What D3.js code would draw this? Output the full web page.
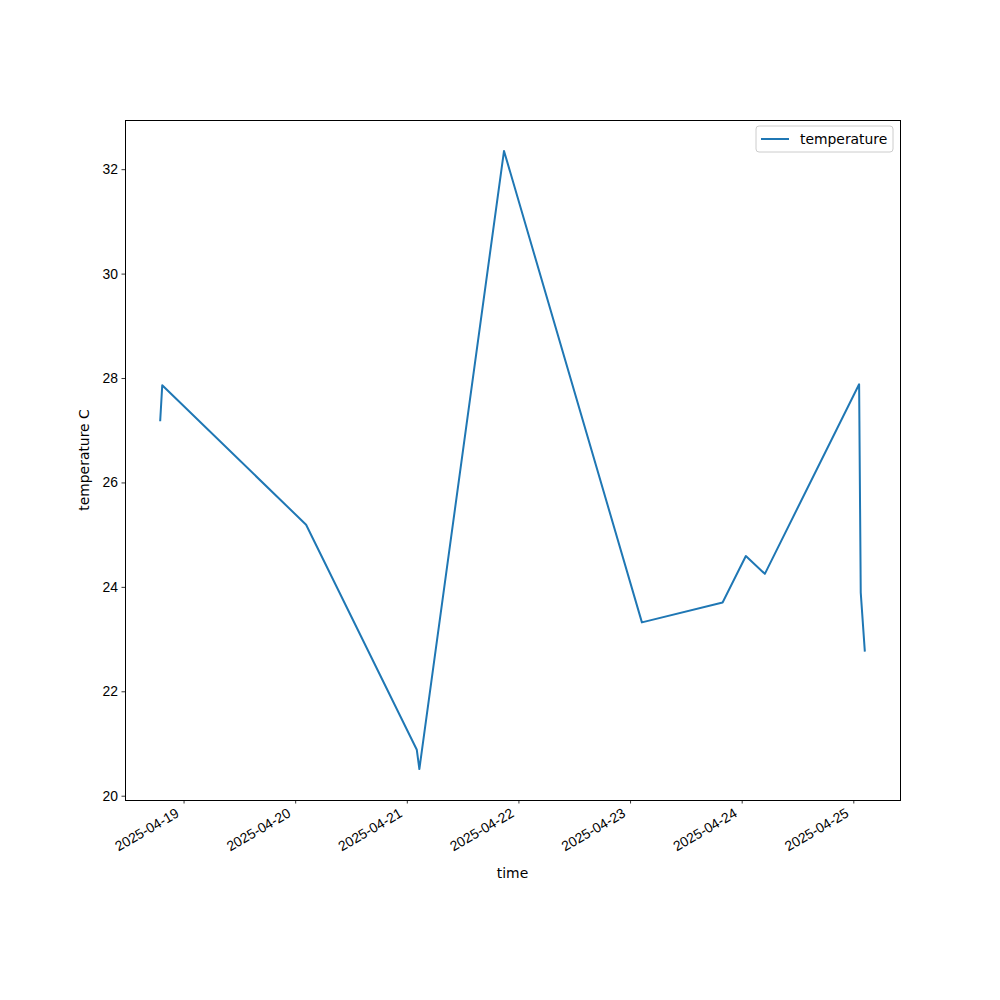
<!DOCTYPE html>
<html>
<head>
<meta charset="utf-8">
<script src="https://cdn.jsdelivr.net/npm/d3@7"></script>
<style>
  body { margin: 0; background: #fff; }
  svg { font-family: "DejaVu Sans", sans-serif; }
</style>
</head>
<body>
<svg id="chart" width="1000" height="1000"></svg>
<script>
// readings (UTC)
var times = [
  "2025-04-18T18:59", "2025-04-18T19:25", "2025-04-20T02:21", "2025-04-21T02:09",
  "2025-04-21T02:42", "2025-04-21T20:54", "2025-04-23T02:33", "2025-04-23T19:54",
  "2025-04-24T00:54", "2025-04-24T04:59", "2025-04-25T01:15", "2025-04-25T01:36",
  "2025-04-25T02:28"
];
var temps = [27.19, 27.86, 25.19, 20.88, 20.51, 32.35, 23.32, 23.70, 24.59, 24.25, 27.88, 23.89, 22.78];
var xTicks = ["2025-04-19", "2025-04-20", "2025-04-21", "2025-04-22", "2025-04-23", "2025-04-24", "2025-04-25"];
var yTicks = [20, 22, 24, 26, 28, 30, 32];

var parseTime = d3.utcParse("%Y-%m-%dT%H:%M");
var parseDay = d3.utcParse("%Y-%m-%d");
var data = times.map(function(t, i) { return { t: parseTime(t), v: temps[i] }; });

var mLeft = 125, mRight = 900, mTop = 120, mBottom = 800;
var svg = d3.select("#chart");

// matplotlib style 5% margins
var xExt = d3.extent(data, function(d) { return d.t; });
var xPad = (xExt[1] - xExt[0]) * 0.05;
var x = d3.scaleUtc()
    .domain([new Date(+xExt[0] - xPad), new Date(+xExt[1] + xPad)])
    .range([mLeft, mRight]);

var yExt = d3.extent(data, function(d) { return d.v; });
var yPad = (yExt[1] - yExt[0]) * 0.05;
var y = d3.scaleLinear()
    .domain([yExt[0] - yPad, yExt[1] + yPad])
    .range([mBottom, mTop]);

// x axis
var xAxis = svg.append("g")
    .attr("transform", "translate(0," + mBottom + ")")
    .call(d3.axisBottom(x)
        .tickValues(xTicks.map(parseDay))
        .tickFormat(d3.utcFormat("%Y-%m-%d"))
        .tickSize(3.5).tickPadding(3.5));
xAxis.select(".domain").remove();
xAxis.selectAll("line").attr("stroke", "#000").attr("stroke-width", 0.8);
xAxis.selectAll("text")
    .attr("fill", "#000")
    .style("font-size", "13.9px")
    .attr("text-anchor", "end")
    .attr("x", 0).attr("y", 0).attr("dy", 0)
    .attr("transform", "translate(-4,16) rotate(-30)");

// y axis
var yAxis = svg.append("g")
    .attr("transform", "translate(" + mLeft + ",0)")
    .call(d3.axisLeft(y).tickValues(yTicks).tickSize(3.5).tickPadding(3.5));
yAxis.select(".domain").remove();
yAxis.selectAll("line").attr("stroke", "#000").attr("stroke-width", 0.8);
yAxis.selectAll("text").attr("fill", "#000").style("font-size", "13.9px");

// line
var line = d3.line()
    .x(function(d) { return x(d.t); })
    .y(function(d) { return y(d.v); });

svg.append("path")
    .datum(data)
    .attr("d", line)
    .attr("fill", "none")
    .attr("stroke", "#1f77b4")
    .attr("stroke-width", 2)
    .attr("stroke-linejoin", "round")
    .attr("stroke-linecap", "square");

// frame
svg.append("rect")
    .attr("x", mLeft + 0.5).attr("y", mTop + 0.5)
    .attr("width", mRight - mLeft).attr("height", mBottom - mTop)
    .attr("fill", "none").attr("stroke", "#000").attr("stroke-width", 1);

// axis labels
svg.append("text")
    .attr("x", (mLeft + mRight) / 2).attr("y", 878)
    .attr("text-anchor", "middle")
    .style("font-size", "13.9px")
    .text("time");

svg.append("text")
    .attr("transform", "translate(89," + (mTop + mBottom) / 2 + ") rotate(-90)")
    .attr("text-anchor", "middle")
    .style("font-size", "13.9px")
    .text("temperature C");

// legend
var lg = svg.append("g").attr("transform", "translate(756,126)");
lg.append("rect")
    .attr("width", 137).attr("height", 26).attr("rx", 3)
    .attr("fill", "#fff").attr("fill-opacity", 0.8)
    .attr("stroke", "#ccc").attr("stroke-width", 1);
lg.append("line")
    .attr("x1", 5).attr("x2", 33).attr("y1", 13).attr("y2", 13)
    .attr("stroke", "#1f77b4").attr("stroke-width", 2);
lg.append("text")
    .attr("x", 44).attr("y", 13).attr("dy", "0.35em")
    .style("font-size", "13.9px")
    .text("temperature");
</script>
</body>
</html>
